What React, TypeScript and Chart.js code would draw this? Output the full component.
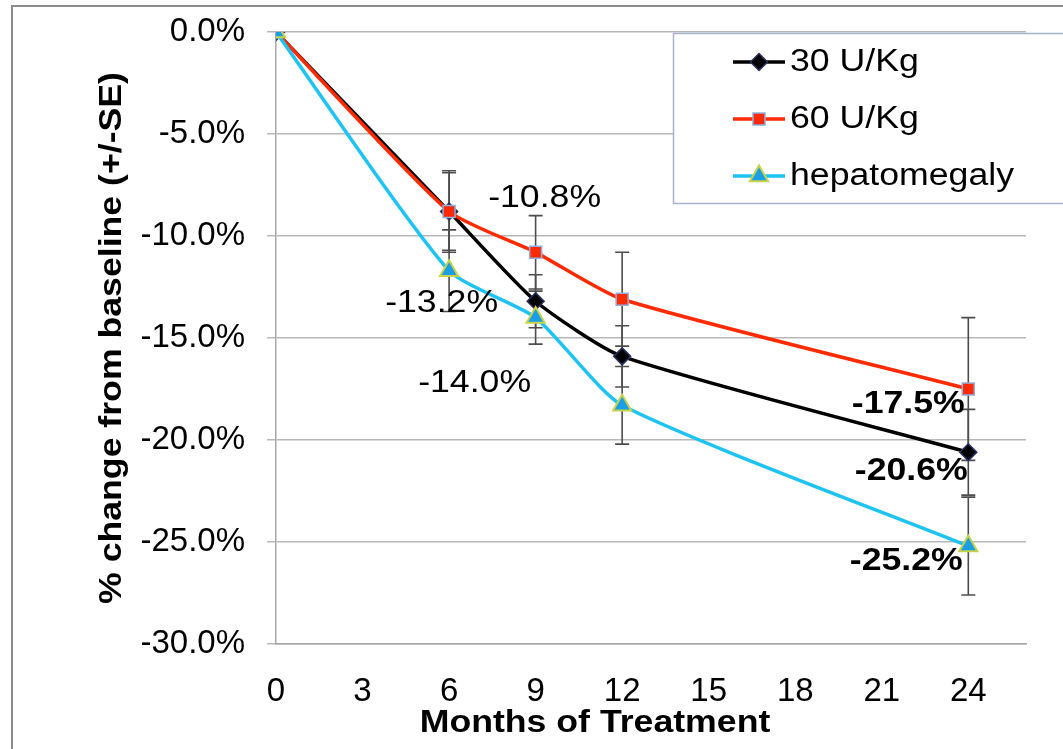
import React, { useEffect, useRef } from 'react';
import { Chart, registerables } from 'chart.js';

Chart.register(...registerables);

// ---------------- data ----------------
const months = [0, 6, 9, 12, 24];
const xTicks = [0, 3, 6, 9, 12, 15, 18, 21, 24];
const yTicks = [0, -5, -10, -15, -20, -25, -30];
const seriesNames = ['30 U/Kg', '60 U/Kg', 'hepatomegaly'];
const dose30 = [0, -8.8, -13.2, -15.9, -20.6];
const dose60 = [0, -8.8, -10.8, -13.1, -17.5];
const hepato = [0, -11.7, -14.0, -18.3, -25.2];
const dose30Err = [0, 1.9, 1.3, 1.5, 2.1];
const dose60Err = [0, 2.0, 1.8, 2.3, 3.5];
const hepatoErr = [0, 2.0, 1.3, 1.9, 2.4];
const xTitle = 'Months of Treatment';
const yTitle = '% change from baseline (+/-SE)';

// ---------------- styles ----------------
const FONT = '"Liberation Sans", Arial, Helvetica, sans-serif';
const STRETCH = 1.15;
const lineColors = ['#000000', '#ff2a00', '#1ec3f2'];
const markerFill = ['#000000', '#ff2a00', '#1a9ee6'];
const markerBorder = ['#2a3060', '#8fb0e0', '#c8d24a'];
const markerStyle = ['rectRot', 'rect', 'triangle'];
const markerRadius = [8.5, 8.5, 10.5];
// annotation placement (series index, point index, pixel offset, weight)
const labelSpec = [
  { s: 1, i: 2, dx: 9, dy: -54, bold: false },
  { s: 0, i: 2, dx: -94, dy: 2, bold: false },
  { s: 2, i: 2, dx: -61, dy: 66, bold: false },
  { s: 1, i: 4, dx: -60, dy: 15, bold: true },
  { s: 0, i: 4, dx: -57, dy: 19, bold: true },
  { s: 2, i: 4, dx: -62, dy: 15, bold: true },
];

const seriesValues = [dose30, dose60, hepato];
const seriesErrors = [dose30Err, dose60Err, hepatoErr];

function drawText(
  ctx: CanvasRenderingContext2D,
  text: string,
  x: number,
  y: number,
  font: string,
  align: CanvasTextAlign,
  rotate = 0
) {
  ctx.save();
  ctx.translate(x, y);
  if (rotate) ctx.rotate(rotate);
  ctx.scale(STRETCH, 1);
  ctx.font = font;
  ctx.fillStyle = '#000';
  ctx.textAlign = align;
  ctx.textBaseline = 'middle';
  ctx.fillText(text, 0, 0);
  ctx.restore();
}

function drawMarker(ctx: CanvasRenderingContext2D, s: number, x: number, y: number) {
  const r = markerRadius[s];
  ctx.save();
  ctx.fillStyle = markerFill[s];
  ctx.strokeStyle = markerBorder[s];
  ctx.lineWidth = s === 2 ? 2 : 1.5;
  ctx.beginPath();
  if (s === 0) {
    ctx.moveTo(x, y - r);
    ctx.lineTo(x + r, y);
    ctx.lineTo(x, y + r);
    ctx.lineTo(x - r, y);
    ctx.closePath();
  } else if (s === 1) {
    const h = r / Math.SQRT2;
    ctx.rect(x - h, y - h, 2 * h, 2 * h);
  } else {
    ctx.moveTo(x, y - r);
    ctx.lineTo(x + r * 0.866, y + r * 0.5);
    ctx.lineTo(x - r * 0.866, y + r * 0.5);
    ctx.closePath();
  }
  ctx.fill();
  ctx.stroke();
  ctx.restore();
}

const decorPlugin = {
  id: 'decor',
  beforeDatasetsDraw(chart: any) {
    const ctx = chart.ctx as CanvasRenderingContext2D;
    const xs = chart.scales.x;
    const ys = chart.scales.y;
    ctx.save();
    ctx.strokeStyle = '#4d4d4d';
    ctx.lineWidth = 1.6;
    seriesValues.forEach((vals, s) => {
      vals.forEach((v, i) => {
        const e = seriesErrors[s][i];
        if (!e) return;
        const x = xs.getPixelForValue(months[i]);
        const y1 = ys.getPixelForValue(v + e);
        const y2 = ys.getPixelForValue(v - e);
        ctx.beginPath();
        ctx.moveTo(x, y1);
        ctx.lineTo(x, y2);
        ctx.moveTo(x - 7, y1);
        ctx.lineTo(x + 7, y1);
        ctx.moveTo(x - 7, y2);
        ctx.lineTo(x + 7, y2);
        ctx.stroke();
      });
    });
    ctx.restore();
  },
  afterDraw(chart: any) {
    const ctx = chart.ctx as CanvasRenderingContext2D;
    const xs = chart.scales.x;
    const ys = chart.scales.y;
    const area = chart.chartArea;

    // data labels
    labelSpec.forEach((l) => {
      const v = seriesValues[l.s][l.i];
      const x = xs.getPixelForValue(months[l.i]) + l.dx;
      const y = ys.getPixelForValue(v) + l.dy;
      drawText(ctx, `${v.toFixed(1)}%`, x, y, `${l.bold ? 'bold ' : ''}31px ${FONT}`, 'center');
    });

    // axis titles
    drawText(ctx, xTitle, area.left + 319, area.bottom + 79, `bold 31px ${FONT}`, 'center');
    drawText(ctx, yTitle, area.left - 164, (area.top + area.bottom) / 2, `bold 31px ${FONT}`, 'center', -Math.PI / 2);

    // legend
    const lx = 673;
    const ly = 33;
    ctx.save();
    ctx.fillStyle = '#ffffff';
    ctx.fillRect(lx, ly, 420, 170);
    ctx.strokeStyle = '#a9b3cf';
    ctx.lineWidth = 1.5;
    ctx.strokeRect(lx + 0.5, ly + 0.5, 420, 170);
    ctx.restore();
    seriesNames.forEach((name, s) => {
      const cy = ly + 29 + s * 57;
      ctx.save();
      ctx.strokeStyle = lineColors[s];
      ctx.lineWidth = 3.5;
      ctx.beginPath();
      ctx.moveTo(733, cy);
      ctx.lineTo(785, cy);
      ctx.stroke();
      ctx.restore();
      drawMarker(ctx, s, 759, cy);
      drawText(ctx, name, 790, cy, `31px ${FONT}`, 'left');
    });

    // outer frame
    ctx.save();
    ctx.strokeStyle = '#8c8c8c';
    ctx.lineWidth = 2;
    ctx.beginPath();
    ctx.moveTo(12, 760);
    ctx.lineTo(12, 6);
    ctx.lineTo(1080, 6);
    ctx.stroke();
    ctx.restore();
  },
};

export default function App() {
  const ref = useRef<HTMLCanvasElement | null>(null);

  useEffect(() => {
    if (!ref.current) return;
    const datasets = seriesNames.map((name, s) => ({
      label: name,
      data: months.map((m, i) => ({ x: m, y: seriesValues[s][i] })),
      borderColor: lineColors[s],
      backgroundColor: markerFill[s],
      borderWidth: 3.5,
      tension: 0.2,
      pointStyle: markerStyle[s],
      pointRadius: markerRadius[s],
      pointBackgroundColor: markerFill[s],
      pointBorderColor: markerBorder[s],
      pointBorderWidth: s === 2 ? 2 : 1.5,
      order: 3 - s,
    }));

    const chart = new Chart(ref.current, {
      type: 'line',
      data: { datasets },
      options: {
        animation: false,
        responsive: false,
        maintainAspectRatio: false,
        layout: { padding: { left: 0, top: 32, right: 37, bottom: 0 } },
        plugins: {
          legend: { display: false },
          tooltip: { enabled: false },
        },
        scales: {
          x: {
            type: 'linear',
            min: 0,
            max: 26,
            afterBuildTicks: (scale: any) => {
              scale.ticks = xTicks.map((v) => ({ value: v }));
            },
            afterFit: (scale: any) => {
              scale.height = 105;
              scale.paddingLeft = 0;
              scale.paddingRight = 0;
            },
            grid: { display: false },
            border: { display: true, color: '#a8a8a8', width: 1.5 },
            ticks: {
              color: '#000',
              font: { family: FONT, size: 33 },
              padding: 20,
              maxRotation: 0,
              autoSkip: false,
            },
          },
          y: {
            type: 'linear',
            min: -30,
            max: 0,
            afterBuildTicks: (scale: any) => {
              scale.ticks = yTicks.map((v) => ({ value: v }));
            },
            afterFit: (scale: any) => {
              scale.width = 276;
              scale.paddingTop = 0;
              scale.paddingBottom = 0;
            },
            grid: { color: '#b8b8b8', lineWidth: 1.5, drawTicks: true, tickLength: 9 },
            border: { display: true, color: '#a8a8a8', width: 1.5 },
            ticks: {
              color: '#000',
              font: { family: FONT, size: 33 },
              padding: 22,
              callback: (v: any) => `${Number(v).toFixed(1)}%`,
            },
          },
        },
      },
      plugins: [decorPlugin],
    });
    return () => chart.destroy();
  }, []);

  return (
    <div style={{ position: 'fixed', left: 0, top: 0, width: 1063, height: 749, background: '#fff' }}>
      <canvas ref={ref} width={1063} height={749} style={{ width: 1063, height: 749, display: 'block' }} />
    </div>
  );
}
